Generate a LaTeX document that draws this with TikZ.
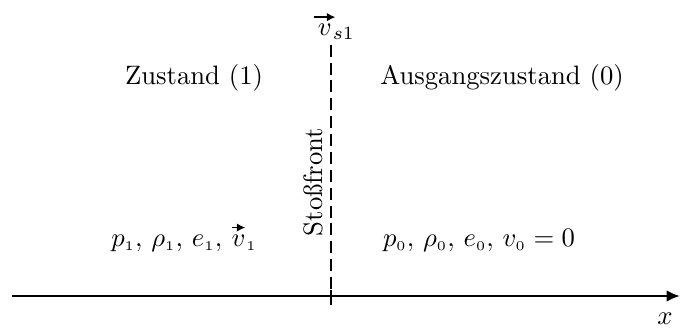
\documentclass[tikz,border=0pt]{standalone}
\usepackage{amsmath}
\usetikzlibrary{arrows.meta,positioning}
\newcommand\pfeilvec[2]{\overset{\tikz[baseline]\draw[-{Latex[length=3.2pt,width=3.2pt]},line width=0.7pt] (0,0)--(#1,0);}{#2}}
\newcommand\ix[1]{_{\scriptscriptstyle #1}}

\begin{document}
\begin{tikzpicture}[x=0.375pt,y=-0.375pt,>=Latex,font=\normalsize]
 \useasboundingbox (0,0) rectangle (681,327);
 % achse
 \coordinate (xl) at (12,296);
 \coordinate (xr) at (680,296);
 \draw[-{Latex[length=5pt,width=4.4pt]},line width=1pt] (xl)--(xr);
 \node[anchor=north] (xlab) at (665,304) {$x$};
 % stossfront
 \coordinate (tickb) at (331,305);
 \coordinate (front) at (331,289);
 \draw[line width=0.8pt] (tickb)--(331,290);
 \node[inner sep=1pt] (vs) at (334,25) {$\pfeilvec{8pt}{v}_{\!s1}$};
 \draw[line width=1pt,dash pattern=on 4.5pt off 2.2pt] (front)--(331,44);
 \node[rotate=90] (stoss) at (313,182) {Sto\ss front};
 % zustaende
 \node (z1) at (194,78) {Zustand (1)};
 \node (z0) at (502,78) {Ausgangszustand (0)};
 \node (g1) at (184,236) {$p\ix{1},\, \rho\ix{1},\, e\ix{1},\, \pfeilvec{5pt}{v}\ix{1}$};
 \node (g0) at (479,240) {$p\ix{0},\, \rho\ix{0},\, e\ix{0},\, v\ix{0}=0$};
\end{tikzpicture}
\end{document}
